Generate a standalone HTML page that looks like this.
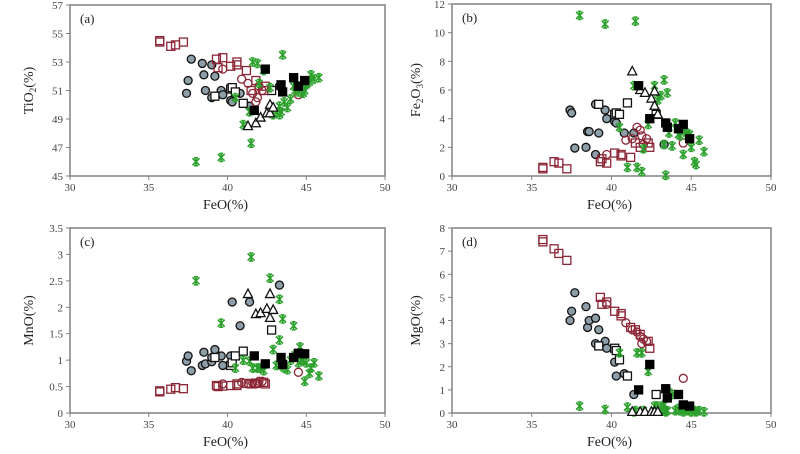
<!DOCTYPE html>
<html><head><meta charset="utf-8"><style>
body{margin:0;background:#fff;}
svg{display:block;font-family:"Liberation Serif",serif;}
</style></head><body>
<svg id="chart" width="800" height="454"></svg>
<script>
// FeO (%) shared x values per series
const grayFeO=[37.4,37.5,37.7,38.4,38.5,38.6,39.0,39.2,39.0,39.6,39.7,40.2,40.3,40.8,41.4,43.3];
const grayTiO2=[50.8,51.7,53.2,52.9,52.1,51.0,52.8,52.0,50.5,51.0,50.7,50.3,50.2,50.8,49.9,51.3];
const grayFe2O3=[4.6,4.4,1.95,2.0,3.1,3.1,5.0,3.0,1.5,4.6,4.0,3.8,3.7,3.0,3.0,2.2];
const grayMnO=[0.98,1.08,0.8,0.9,1.15,0.93,0.97,1.2,1.05,1.08,0.9,1.08,2.1,1.65,2.1,2.42];
const grayMgO=[4.0,4.4,5.2,4.6,3.7,4.0,4.1,3.6,3.0,3.1,2.8,2.2,1.6,1.7,0.8,0.15];

const oSqFeO=[39.2,40.2,40.3,40.5,41.0,42.8];
const oSqTiO2=[50.6,51.1,51.2,50.9,50.1,51.0];
const oSqFe2O3=[5.0,4.3,4.4,4.3,5.1,4.3];
const oSqMnO=[1.05,0.9,0.95,1.08,1.17,1.57];
const oSqMgO=[2.9,2.8,2.7,2.3,1.6,0.8];

const fSqFeO=[41.7,42.4,43.4,43.5,44.2,44.5,44.9];
const fSqTiO2=[49.6,52.5,51.4,50.9,51.9,51.3,51.7];
const fSqFe2O3=[6.3,4.0,3.7,3.4,3.3,3.6,2.6];
const fSqMnO=[1.08,0.93,1.05,0.92,1.05,1.13,1.12];
const fSqMgO=[1.0,2.1,1.05,0.65,0.8,0.35,0.3];

const triFeO=[41.3,41.8,42.1,42.5,42.7,42.7,42.9];
const triTiO2=[48.5,48.7,49.1,49.4,49.4,50.0,49.8];
const triFe2O3=[7.3,6.0,5.8,5.4,5.9,4.9,4.3];
const triMnO=[2.25,1.87,1.89,1.97,2.25,1.8,1.95];
const triMgO=[0.05,0.05,0.05,0.05,0.05,0.05,0.05];

const rSqFeO=[35.7,35.7,36.4,36.7,37.2,39.3,39.4,39.7,40.2,40.6,40.6,41.2,41.5,41.8,42.3,42.4];
const rSqTiO2=[54.4,54.5,54.1,54.2,54.4,53.2,52.6,53.3,52.7,52.8,53.0,52.4,51.0,51.7,51.0,51.3];
const rSqFe2O3=[0.5,0.6,1.0,0.9,0.5,1.0,1.2,0.9,1.6,1.4,1.5,1.3,2.3,2.0,2.3,2.0];
const rSqMnO=[0.4,0.42,0.45,0.48,0.46,0.52,0.5,0.51,0.52,0.55,0.52,0.56,0.55,0.56,0.58,0.55];
const rSqMgO=[7.4,7.5,7.1,6.9,6.6,5.0,4.7,4.8,4.4,4.3,4.2,3.7,3.6,3.4,3.1,2.8];

const rCiFeO=[40.9,41.3,41.6,41.8,42.0,42.2,39.7,44.5,41.9];
const rCiTiO2=[51.8,51.5,50.8,50.2,51.3,51.0,52.5,50.7,50.5];
const rCiFe2O3=[2.5,2.6,3.4,3.2,2.2,2.6,1.5,2.3,2.8];
const rCiMnO=[0.58,0.56,0.57,0.55,0.6,0.6,0.55,0.77,0.57];
const rCiMgO=[3.9,3.6,3.5,3.3,3.2,3.1,4.7,1.5,3.0];

const grnFeO=[38.0,39.6,41.5,40.5,41.0,41.4,41.6,41.9,42.3,42.7,42.9,43.1,43.3,43.3,43.5,43.6,43.8,44.0,44.2,44.3,44.5,44.6,44.8,44.9,45.0,45.2,45.3,45.5,45.8,43.4,42.0,44.7];
const grnTiO2=[46.0,46.3,47.3,50.5,48.6,49.5,53.0,52.9,52.4,51.2,49.3,49.5,49.3,49.9,53.5,50.2,49.8,50.4,51.3,51.0,50.9,51.3,50.8,51.0,51.4,51.6,52.1,51.8,51.9,49.5,51.5,51.2];
const grnFe2O3=[11.2,10.6,10.8,3.4,0.6,6.3,0.6,0.3,3.6,6.3,5.3,5.6,6.7,2.2,5.8,3.0,2.1,3.7,2.9,2.8,1.5,3.1,2.8,2.9,2.0,1.0,0.8,2.5,1.7,0.05,1.9,3.0];
const grnMnO=[2.5,1.7,2.95,0.85,1.0,0.98,0.85,0.85,0.8,2.55,1.2,0.9,2.15,1.38,1.78,0.85,0.82,1.0,1.65,1.1,0.95,1.25,1.0,0.6,0.95,0.75,0.85,0.95,0.7,0.9,0.85,1.0];
const grnMgO=[0.3,0.15,0.1,2.6,0.25,0.05,2.6,2.6,1.8,0.3,0.3,0.2,0.1,0.35,0.1,0.9,0.8,0.1,0.2,0.1,0.05,0.15,0.1,0.2,0.05,0.1,0.05,0.1,0.05,0.05,0.1,0.1];

const xTicks=[30,35,40,45,50];
const tiTicks=[45,47,49,51,53,55,57];
const feTicks=[0,2,4,6,8,10,12];
const mnTicks=[0,0.5,1,1.5,2,2.5,3,3.5];
const mgTicks=[0,1,2,3,4,5,6,7,8];

const NS="http://www.w3.org/2000/svg";
const svg=document.getElementById('chart');
function mk(tag,attrs,parent){const e=document.createElementNS(NS,tag);for(const k in attrs)e.setAttribute(k,attrs[k]);(parent||svg).appendChild(e);return e;}

const panels=[
 {id:'a',x0:70,x1:385,yTop:5,yBot:176,ymin:45,ymax:57,ticks:tiTicks,key:'TiO2',title:['TiO','2','(%)'],tx:33},
 {id:'b',x0:452,x1:771,yTop:4,yBot:176,ymin:0,ymax:12,ticks:feTicks,key:'Fe2O3',title:['Fe','2','O','3','(%)'],tx:420},
 {id:'c',x0:70,x1:385,yTop:228,yBot:413,ymin:0,ymax:3.5,ticks:mnTicks,key:'MnO',title:['MnO(%)'],tx:33},
 {id:'d',x0:452,x1:771,yTop:228,yBot:413,ymin:0,ymax:8,ticks:mgTicks,key:'MgO',title:['MgO(%)'],tx:420}
];
const series=[
 {name:'gray-circle',type:'circle',fill:'#8e9ea8',stroke:'#111',x:grayFeO,TiO2:grayTiO2,Fe2O3:grayFe2O3,MnO:grayMnO,MgO:grayMgO},
 {name:'open-square',type:'square',fill:'#fff',stroke:'#111',x:oSqFeO,TiO2:oSqTiO2,Fe2O3:oSqFe2O3,MnO:oSqMnO,MgO:oSqMgO},
 {name:'red-square',type:'square',fill:'none',stroke:'#8b2535',x:rSqFeO,TiO2:rSqTiO2,Fe2O3:rSqFe2O3,MnO:rSqMnO,MgO:rSqMgO},
 {name:'red-circle',type:'circle',fill:'none',stroke:'#8b2535',x:rCiFeO,TiO2:rCiTiO2,Fe2O3:rCiFe2O3,MnO:rCiMnO,MgO:rCiMgO},
 {name:'green-asterisk',type:'star',fill:'none',stroke:'#2ca02c',x:grnFeO,TiO2:grnTiO2,Fe2O3:grnFe2O3,MnO:grnMnO,MgO:grnMgO},
 {name:'open-triangle',type:'tri',fill:'#fff',stroke:'#111',x:triFeO,TiO2:triTiO2,Fe2O3:triFe2O3,MnO:triMnO,MgO:triMgO},
 {name:'filled-square',type:'square',fill:'#000',stroke:'#000',x:fSqFeO,TiO2:fSqTiO2,Fe2O3:fSqFe2O3,MnO:fSqMnO,MgO:fSqMgO}
];

panels.forEach(p=>{
 const g=mk('g',{});
 
 
 const sx=v=>p.x0+(v-30)/20*(p.x1-p.x0);
 const sy=v=>p.yBot-(v-p.ymin)/(p.ymax-p.ymin)*(p.yBot-p.yTop);
 const fr=mk('rect',{x:p.x0,y:p.yTop,width:p.x1-p.x0,height:p.yBot-p.yTop,fill:'#fff',stroke:'#808080','stroke-width':1.5},g);
 
 
 p.ticks.forEach(t=>{
  const y=sy(t);
  mk('line',{x1:p.x0-4,x2:p.x0,y1:y,y2:y,stroke:'#808080'},g);
  const tx=mk('text',{x:p.x0-7,y:y+4,'text-anchor':'end','font-size':11,fill:'#444'},g);
  tx.textContent=String(t);
  
  
 });
 xTicks.forEach(t=>{
  const x=sx(t);
  mk('line',{x1:x,x2:x,y1:p.yBot,y2:p.yBot+4,stroke:'#808080'},g);
  const tx=mk('text',{x:x,y:p.yBot+15,'text-anchor':'middle','font-size':11,fill:'#444'},g);
  tx.textContent=String(t);
  
  
 });
 const lab=mk('text',{x:p.x0+10,y:p.yTop+18,'font-size':13,fill:'#222'},g);
 lab.textContent='('+p.id+')';
 
 
 const xt=mk('text',{x:(p.x0+p.x1)/2-2,y:p.yBot+33,'text-anchor':'middle','font-size':14,fill:'#222'},g);
 xt.textContent='FeO(%)';
 
 
 const cy=(p.yTop+p.yBot)/2;
 const yt=mk('text',{x:0,y:0,'text-anchor':'middle','font-size':14,fill:'#222',transform:`translate(${p.tx},${cy}) rotate(-90)`},g);
 
 
 p.title.forEach((s,i)=>{
  const ts=mk('tspan',{},yt);
  if(p.title.length>1&&i%2===1){ts.setAttribute('font-size','9');ts.setAttribute('dy','3');}
  else if(i>0){ts.setAttribute('dy','-3');}
  ts.textContent=s;
 });
 series.forEach(s=>{
  const sg=mk('g',{},g);
  
  
  const ys=s[p.key];
  s.x.forEach((xv,i)=>{
   const cx=sx(xv), cyv=sy(ys[i]);
   let m;
   if(s.type==='circle'){
    m=mk('circle',{cx:cx,cy:cyv,r:4,fill:s.fill,stroke:s.stroke,'stroke-width':1.3},sg);
   }else if(s.type==='square'){
    m=mk('rect',{x:cx-4,y:cyv-4,width:8,height:8,fill:s.fill,stroke:s.stroke,'stroke-width':1.3},sg);
   }else if(s.type==='tri'){
    m=mk('polygon',{points:`${cx},${cyv-5} ${cx-4.5},${cyv+3.5} ${cx+4.5},${cyv+3.5}`,fill:s.fill,stroke:s.stroke,'stroke-width':1.3},sg);
   }else{
    m=mk('path',{d:`M${cx-3.5},${cyv-3.5}L${cx+3.5},${cyv+3.5}M${cx+3.5},${cyv-3.5}L${cx-3.5},${cyv+3.5}M${cx},${cyv-4.5}L${cx},${cyv+4.5}M${cx-2},${cyv-4}L${cx+2},${cyv-4}M${cx-2},${cyv+4}L${cx+2},${cyv+4}`,stroke:s.stroke,'stroke-width':1.6,fill:'none'},sg);
   }
   
   
  });
 });
});
</script>
</body></html>
